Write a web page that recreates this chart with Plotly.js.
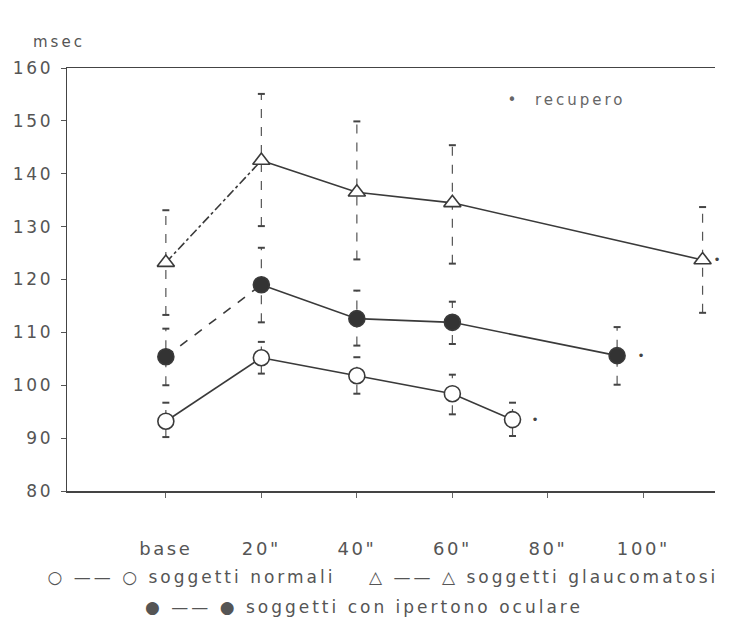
<!DOCTYPE html>
<html><head><meta charset="utf-8">
<script src="https://cdn.plot.ly/plotly-3.0.1.min.js"></script>
<style>
html,body{margin:0;padding:0;background:#fff}
#chart .main-svg text{letter-spacing:2.6px}
#chart .main-svg .annotation-text{letter-spacing:3px}
</style>
</head><body><div id="chart" style="width:729px;height:623px"></div>
<script>
// x positions (seconds): base = 0
const tickVals = [0, 20, 40, 60, 80, 100];
const tickText = ['base', '20"', '40"', '60"', '80"', '100"'];
const timeX = [0, 20, 40, 60];

// soggetti normali
const normMean = [93.2, 105.2, 101.8, 98.4];
const normRecX = 72.6, normRecY = 93.5;
const normLo = [90.2, 102.2, 98.4, 94.5, 90.4];
const normHi = [96.7, 108.2, 105.3, 102.0, 96.7];

// soggetti glaucomatosi
const glauMean = [123.2, 142.5, 136.5, 134.5];
const glauRecX = 112.4, glauRecY = 123.7;
const glauLo = [113.3, 130.1, 123.8, 123.0, 113.7];
const glauHi = [133.1, 155.1, 149.9, 145.4, 133.7];

// soggetti con ipertono oculare
const ipeMean = [105.4, 119.0, 112.6, 111.9];
const ipeRecX = 94.5, ipeRecY = 105.6;
const ipeLo = [100.0, 111.9, 107.5, 107.8, 100.1];
const ipeHi = [110.7, 126.0, 117.9, 115.8, 111.0];

const C = '#3a3a3a';
const FONT = 'DejaVu Sans, sans-serif';
const traces = [];

function errTrace(xs, lo, hi) {
  const x = [], y = [];
  xs.forEach((v, i) => { x.push(v, v, null); y.push(lo[i], hi[i], null); });
  traces.push({x, y, mode: 'lines', line: {color: '#555', width: 1.2, dash: 'dash'}, hoverinfo: 'skip', showlegend: false});
  traces.push({x: xs.concat(xs), y: lo.concat(hi), mode: 'markers',
    marker: {symbol: 'line-ew', size: 5, line: {color: '#444', width: 2}}, hoverinfo: 'skip', showlegend: false});
}

function series(mean, recX, recY, lo, hi, symbol, fill, firstDash) {
  const xs = timeX.concat([recX]);
  const ys = mean.concat([recY]);
  errTrace(xs, lo, hi);
  traces.push({x: xs.slice(0, 2), y: ys.slice(0, 2), mode: 'lines',
    line: {color: C, width: 1.6, dash: firstDash}, showlegend: false});
  traces.push({x: xs.slice(1), y: ys.slice(1), mode: 'lines',
    line: {color: C, width: 1.6}, showlegend: false});
  traces.push({x: xs, y: ys, mode: 'markers',
    marker: {symbol: symbol, size: symbol.indexOf('triangle') === 0 ? 15 : 16,
      color: fill, line: {color: C, width: 1.6}}, showlegend: false});
}

series(normMean, normRecX, normRecY, normLo, normHi, 'circle', '#ffffff', 'solid');
series(glauMean, glauRecX, glauRecY, glauLo, glauHi, 'triangle-up', '#ffffff', 'dashdot');
series(ipeMean, ipeRecX, ipeRecY, ipeLo, ipeHi, 'circle', '#333333', 'dash');

const recDots = [[normRecX, normRecY, 24], [ipeRecX, ipeRecY, 25], [glauRecX, glauRecY, 16]].map(p => ({
  x: p[0], y: p[1], xref: 'x', yref: 'y', text: '•', showarrow: false, xshift: p[2],
  font: {family: FONT, size: 12, color: '#444'}
}));

const layout = {
  width: 729, height: 623,
  margin: {l: 67, r: 14, t: 68, b: 132},
  paper_bgcolor: '#fff', plot_bgcolor: '#fff',
  showlegend: false,
  xaxis: {
    range: [-20.7, 115], tickvals: tickVals, ticktext: tickText,
    showgrid: false, zeroline: false, showline: true, linecolor: '#444', linewidth: 1.5,
    mirror: true, ticks: 'outside', ticklen: 5, tickcolor: '#666',
    ticklabelstandoff: 36,
    tickfont: {family: FONT, size: 18, color: '#555'}
  },
  yaxis: {
    range: [80, 160], tickvals: [80, 90, 100, 110, 120, 130, 140, 150, 160],
    showgrid: false, zeroline: false, showline: true, linecolor: '#444', linewidth: 1.5,
    ticks: 'outside', ticklen: 5, tickcolor: '#555',
    ticklabelstandoff: 4,
    tickfont: {family: FONT, size: 17, color: '#555'}
  },
  annotations: [
    {xref: 'paper', yref: 'paper', x: -0.013, y: 1.062, xanchor: 'center', yanchor: 'middle',
      text: 'msec', showarrow: false, font: {family: FONT, size: 15, color: '#555'}},
    {xref: 'x', yref: 'y', x: 84, y: 154, xanchor: 'center', yanchor: 'middle',
      text: '•  recupero', showarrow: false, font: {family: FONT, size: 15, color: '#666'}},
    {xref: 'paper', yref: 'paper', x: 0.487, y: -0.203, xanchor: 'center', yanchor: 'middle',
      text: '○ —— ○ soggetti normali    △ —— △ soggetti glaucomatosi', showarrow: false,
      font: {family: FONT, size: 17, color: '#555'}},
    {xref: 'paper', yref: 'paper', x: 0.458, y: -0.274, xanchor: 'center', yanchor: 'middle',
      text: '● —— ● soggetti con ipertono oculare', showarrow: false,
      font: {family: FONT, size: 17, color: '#555'}}
  ].concat(recDots)
};

Plotly.newPlot('chart', traces, layout, {displayModeBar: false, staticPlot: true});
</script></body></html>
